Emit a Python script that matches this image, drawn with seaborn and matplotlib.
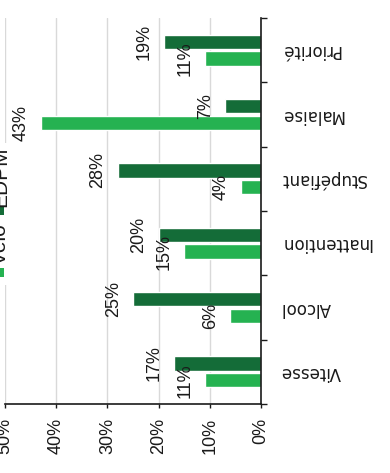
import matplotlib
matplotlib.use("Agg")
import matplotlib.pyplot as plt
from matplotlib.patches import Rectangle
from matplotlib.ticker import FixedLocator
import pandas as pd
import seaborn as sns

# Share of accidents by main cause, per vehicle type (%)
causes = ["Vitesse", "Alcool", "Inattention", "Stupéfiant", "Malaise", "Priorité"]
edpm = [17, 25, 20, 28, 7, 19]
velo = [11, 6, 15, 4, 43, 11]
modes = ["EDPM", "Vélo"]
colors = {"EDPM": "#146c38", "Vélo": "#25b251"}
x_ticks = [0, 10, 20, 30, 40, 50]
x_tick_labels = ["0%", "10%", "20%", "30%", "40%", "50%"]

df = pd.DataFrame({
    "cause": causes * 2,
    "mode": ["EDPM"] * len(causes) + ["Vélo"] * len(causes),
    "value": edpm + velo,
})

sns.set_theme(style="white")
plt.rcParams["font.family"] = ["Liberation Sans", "DejaVu Sans"]
sans = ["Liberation Sans", "DejaVu Sans"]

W, H = 390, 473
fig = plt.figure(figsize=(W / 100, H / 100), dpi=100)
ax = fig.add_axes([5 / W, 69 / H, 256 / W, 386 / H])

order = causes[::-1]
sns.barplot(data=df, y="cause", x="value", hue="mode", order=order,
            hue_order=modes, palette=colors, orient="h", width=0.52,
            gap=0.15, saturation=1, legend=False, ax=ax)

ax.set_xlim(50, 0)
ax.set_ylim(len(order) - 0.5, -0.5)
ax.set_xlabel("")
ax.set_ylabel("")

# value labels at the end of each bar
for cont in ax.containers:
    ax.bar_label(cont, fmt="{:.0f}%", rotation=90, padding=8,
                 fontsize=13, family=sans, color="#1a1a1a")

# value axis
ax.set_xticks(x_ticks)
ax.set_xticklabels(x_tick_labels, rotation=90, fontsize=13, family=sans,
                   color="#1a1a1a")
ax.tick_params(axis="x", bottom=True, length=3, width=1, color="#1a1a1a",
               pad=7, direction="out")
ax.xaxis.grid(True, color="#d9d9d9", lw=1)
ax.yaxis.grid(False)
ax.set_axisbelow(True)

# category axis on the right, ticks between categories
ax.yaxis.tick_right()
ax.set_yticks(range(len(order)))
ax.set_yticklabels(order, rotation=180, fontsize=12, family="DejaVu Sans",
                   color="#1a1a1a", va="center")
ax.tick_params(axis="y", which="major", right=True, left=False, length=0,
               pad=14)
ax.yaxis.set_minor_locator(FixedLocator([i - 0.5 for i in range(len(order) + 1)]))
ax.tick_params(axis="y", which="minor", right=True, left=False, length=4.5,
               width=1, color="#1a1a1a", direction="out")

for side in ("left", "top"):
    ax.spines[side].set_visible(False)
for side in ("right", "bottom"):
    ax.spines[side].set_color("#1a1a1a")
    ax.spines[side].set_linewidth(1.2)

# legend, turned on its side along the left edge
fig.patches.append(Rectangle((-12 / W, (H - 285) / H), 28 / W, 142 / H,
                             transform=fig.transFigure, facecolor="white",
                             edgecolor="none", zorder=5))
fig.patches.append(Rectangle((-5 / W, (H - 215) / H), 9 / W, 8 / H,
                             transform=fig.transFigure, facecolor=colors["EDPM"],
                             edgecolor="none", zorder=6))
fig.patches.append(Rectangle((-5 / W, (H - 277) / H), 9 / W, 9 / H,
                             transform=fig.transFigure, facecolor=colors["Vélo"],
                             edgecolor="none", zorder=6))
fig.text(10 / W, (H - 207) / H, "EDPM", rotation=90, ha="right", va="bottom",
         fontsize=15, family=sans, color="#1a1a1a", zorder=7)
fig.text(10 / W, (H - 265) / H, "Vélo", rotation=90, ha="right", va="bottom",
         fontsize=15, family=sans, color="#1a1a1a", zorder=7)

fig.savefig("out.png", dpi=100)
